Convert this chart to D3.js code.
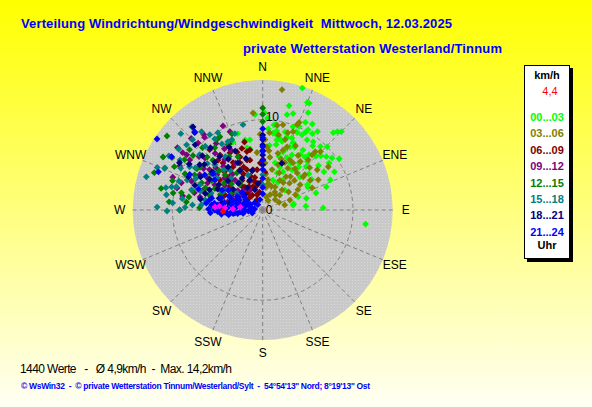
<!DOCTYPE html>
<html><head><meta charset="utf-8">
<script src="https://cdn.jsdelivr.net/npm/d3@7"></script>
<style>
body{margin:0;background:#fff;}
svg{display:block;font-family:"Liberation Sans",Arial,sans-serif;}
</style>
</head><body>
<svg id="chart" width="592" height="407"></svg>
<script>
// ---------- data ----------
const titleText = "Verteilung Windrichtung/Windgeschwindigkeit  Mittwoch, 12.03.2025";
const subtitleText = "private Wetterstation Westerland/Tinnum";
const statsText = "1440 Werte   -   Ø 4,9km/h  -  Max. 14,2km/h";
const footerText = "© WsWin32  -  © private Wetterstation Tinnum/Westerland/Sylt  -  54°54'13'' Nord; 8°19'13'' Ost";
const directionLabels = ["N","NNE","NE","ENE","E","ESE","SE","SSE","S","SSW","SW","WSW","W","WNW","NW","NNW"];
const speedTicks = [0, 10];
const speedMax = 14.4;
const hourLabels = ["00...03","03...06","06...09","09...12","12...15","15...18","18...21","21...24"];
const hourColors = ["#00ff00","#808000","#800000","#800080","#008000","#008080","#000080","#0000ff"];
const unitLabel = "km/h";
const hourUnit = "Uhr";
const currentLabel = "4,4";

// [direction in degrees, speed in km/h]
const h00_03 = [[18,14.2],[22.5,12.9],[23.6,12.9],[25,11.9],[14.2,11.9],[17.5,11.2],[14.3,10.9],[23.6,10.1],[24,9.4],[27.6,9.4],[28.8,9.8],[29.5,10.2],[33,10.1],[32.3,9.2],[36.5,9.4],[42.3,9.5],[45.6,10],[42.4,11.6],[43.6,12],[45.1,12.3],[53.1,9.6],[56.2,10.2],[54.7,9.0],[66,8.2],[44.6,8.4],[51.5,7.9],[42.7,7.3],[34.1,7.4],[33.9,8.0],[38.6,7.5],[37.7,6.6],[48.5,5.5],[60.6,5.7],[63,5.6],[69.8,4.2],[72.3,6.2],[80.6,3.4],[88,6.7],[34,4.0],[48,3.3],[36.2,5.5],[7.6,8.6],[11.5,7.9],[11.6,7.4],[15.8,7.9],[18.4,8.5],[22.1,8.6],[24.3,8.2],[23.4,7.6],[19.3,6.8],[17.1,6.2],[25,6.4],[28,6.9],[14.7,5.4],[21.9,5.1],[28.1,4.8],[21.1,4.4],[19,3.5],[28.6,3.5],[355.4,10.6],[345.8,8.0],[349.7,7.9],[342,8.9],[336.4,8.2],[345.8,7.1],[348.2,6.9],[97.8,11.5],[79,3.5],[7.6,9.5],[10,8.5],[1,10.8],[3,10.2],[9,9.6],[10,8.9],[12,8.0],[20,9.8],[26,10.8],[30,11.0],[35,10.6],[38,9.0],[40,8.0],[47,8.8],[50,9.2],[58,8.0],[62,9.0],[16,9.0],[13,8.2],[20,7.2],[27,7.8],[31,6.0],[40,6.2],[45,6.8],[52,6.5],[58,6.4],[70,7.5],[75,5.0],[85,4.8],[6,7.2],[4,9.0]];
const h03_06 = [[9.1,13.5],[354.3,10.8],[22.6,10.5],[22,10.2],[13.4,9.7],[9.7,9.5],[21.2,9.3],[17.7,8.2],[21.1,7.5],[18.7,7.0],[28.6,6.3],[32.8,6.2],[37.8,6.8],[42.2,7.5],[41.9,8.2],[42,8.7],[44.7,9.1],[56.6,8.7],[53.6,7.5],[61.5,7.0],[65.9,6.0],[50.7,5.8],[42.8,5.6],[39.6,4.8],[36.9,3.8],[44,3.1],[28.1,2.9],[7.8,5.9],[13,4.6],[3.9,7.0],[354.3,6.4],[1.9,7.8],[65,4.0],[70,3.2],[49,2.5],[77,2.5],[26,1.9],[56,5.0],[50,6.1],[18.8,5.3],[31,5.4],[10,3.4],[15,6.5],[25,5.8],[35,4.5],[45,4.2],[30,3.8],[20,2.8],[40,2.2],[55,3.5],[60,4.5],[5,4.0],[8,2.5],[15,1.5],[30,1.2],[50,1.8],[65,2.0],[12,8.5],[18,9.0],[5,8.6],[27,8.0],[33,7.2],[48,7.0],[38,5.8],[24,4.5],[12,3.0],[58,6.2],[47,4.8],[34,2.4],[3,5.2],[358,8.4],[20,6.0],[6,6.6]];
const h06_09 = [[0.3,5.6],[3.5,4.2],[348,6.8],[334.2,5.8],[342.6,5.8],[330.2,7.3],[336.1,7.0],[336.8,6.4],[344.9,6.7],[325.4,5.8],[312.7,5.4],[314.3,4.8],[330.4,5.1],[338.6,4.8],[345.7,5.7],[319.8,6.8],[296.7,5.7],[299.8,3.8],[319.4,3.4],[337.1,2.8],[330.3,1.3],[292,3.0],[346.4,4.6],[322.2,7.7],[318.7,8.9],[341.3,7.2],[347,2.8],[291.7,4.5],[346.5,3.7],[335,3.5],[325,4.0],[350,2.0],[340,1.8],[320,2.5],[310,3.0],[355,3.0],[352,4.5],[328,6.2],[315,6.0],[305,4.5],[300,2.2],[325,2.0],[340,4.0],[332,4.5],[318,5.2],[333,8.2],[345,7.8],[310,6.8],[303,6.2],[318,7.4],[326,6.8],[336,5.2],[344,3.3],[357,5.2],[322,3.2],[312,2.0],[298,4.8],[330,3.0],[305,5.8]];
const h09_12 = [[334.7,10.3],[321.3,10.3],[306,10.4],[306.2,11.7],[316,10.3],[288.5,9.5],[284.1,7.8],[281.7,7.1],[286.4,4.7],[304.5,9.8],[337.3,9.4],[312,8.6],[284.4,9.8],[307.5,6.4],[278.7,2.2],[307.2,7.4],[323,7.0],[297.7,6.0],[299.2,8.0],[317.3,4.5],[305.6,10.9],[301.4,4.3],[327.6,2.6],[295,5.0],[310,5.5],[290,3.5],[315,3.0],[300,7.0],[320,8.2],[330,6.0],[292,8.5],[285,6.0],[310,9.2],[325,9.0],[300,3.0],[283,4.0],[318,6.5],[305,8.0],[315,11.2],[298,10.4],[290,10.6],[280,9.0],[288,7.0],[296,6.8],[312,7.0],[320,5.2],[328,8.0],[332,7.5],[303,5.0],[294,3.8],[308,3.5],[276,5.5],[286,2.8],[322,10.6]];
const h12_15 = [[307.7,13.4],[296.1,10.9],[289,12.7],[281.9,9.2],[270,9.2],[280,8.3],[294,7.4],[326.9,9.3],[331.9,8.2],[313.6,8.5],[0,11.3],[0,10.6],[0,9.8],[304.4,8.4],[322.4,8.7],[329.7,9.4],[338,9.1],[280.7,10.1],[297.3,8.5],[312.9,5.7],[285.9,6.1],[317.8,3.8],[302.8,10.3],[309.5,10.5],[300,6.5],[290,5.0],[310,4.5],[320,6.0],[295,9.5],[285,8.0],[305,7.0],[315,7.8],[325,5.0],[298,4.0],[288,10.5],[276,8.5],[335,6.5],[308,9.8],[300,11.6],[293,11.8],[282,11.5],[275,10.4],[291,6.8],[302,8.6],[316,9.6],[312,6.5],[328,7.0],[305,5.2],[294,5.8],[284,4.6],[320,4.0],[272,7.0],[298,12.5]];
const h15_18 = [[319.6,12.1],[310.6,11.1],[315.1,11.0],[324.9,10.2],[329.9,9.9],[328.3,8.6],[333,8.5],[336.3,8.5],[285.9,13.4],[293.3,11.8],[284.2,10.4],[285,9.9],[271.6,11.7],[269.4,10.6],[274.5,10.0],[285.8,8.2],[274.1,7.8],[273.4,5.6],[291.6,9.0],[300.6,9.4],[347,9.7],[301.2,7.5],[313.3,7.3],[320.7,5.7],[291.7,7.5],[295.1,5.2],[0,3.9],[0,2.8],[337.2,4.2],[301.2,10.7],[311.3,9.3],[280,6.5],[288,6.0],[295,8.2],[305,6.2],[310,8.0],[300,4.5],[290,3.8],[315,5.0],[325,7.2],[278,9.0],[283,11.0],[297,10.2],[306,11.5],[318,9.5],[282,4.5],[275,6.8],[292,12.6],[300,12.0],[313,12.4],[322,11.0],[270,9.2],[279,10.8],[287,7.2],[302,8.8],[308,6.8],[316,6.2],[296,4.8],[303,3.4],[272,8.6],[289,9.8],[326,9.5],[340,9.0]];
const h18_21 = [[320,12.0],[318.7,11.4],[321.1,7.6],[321.1,6.1],[332.3,5.9],[327.1,4.2],[290.8,6.3],[279.8,4.6],[288,3.6],[306.9,7.0],[331.9,7.9],[0,8.3],[0,7.2],[0,6.1],[0,5.0],[0,7.8],[0,6.6],[305.7,8.6],[299.6,10.6],[337,3.6],[310.3,2.6],[339,2.4],[22.3,5.6],[295,5.5],[300,6.8],[285,5.0],[310,5.0],[315,7.5],[325,3.0],[290,8.0],[280,7.0],[305,4.0],[295,3.0],[312,9.0],[330,5.0],[345,4.5],[350,3.0],[283,2.5],[314,10.4],[302,9.6],[294,9.0],[286,6.6],[298,7.8],[308,8.2],[320,9.0],[318,4.0],[300,5.6],[282,3.8],[292,2.0],[326,6.8],[335,7.2],[342,6.0]];
const h21_24 = [[275.6,5.7],[270,5.3],[267.3,4.7],[267,4.2],[264.8,3.6],[263.8,3.1],[265,2.5],[266.8,2.0],[270,1.4],[277,0.9],[276.4,5.0],[280.5,4.3],[279.3,3.5],[282.4,2.6],[288.8,1.7],[312,1.2],[280.7,6.0],[273.3,3.9],[274.3,3.0],[276,2.1],[254,1.2],[317,0.8],[345,1.2],[0,9.0],[0,8.0],[0,7.0],[0,6.5],[0,5.5],[0,4.5],[0,3.5],[0,2.5],[0,1.8],[303.9,14.1],[300.3,11.7],[290.1,12.3],[301.2,7.5],[302.2,6.3],[300,4.4],[319,11.5],[268,5.0],[265,4.0],[263,3.3],[262,2.8],[266,1.6],[272,4.6],[271,3.2],[269,2.3],[278,5.4],[284,3.0],[290,2.2],[295,1.5],[300,2.0],[305,2.5],[298,3.2],[292,4.0],[286,4.8],[283,5.8],[277,6.3],[275,4.4],[267,5.8],[271,6.0],[264,4.6],[262,3.8],[260,2.2],[264,1.2],[280,1.2],[283,2.0],[287,3.5],[293,2.8],[296,5.0],[310,3.0],[306,6.8],[296,9.0],[288,7.5]];
const lastMinutes = [[273.6,5.3],[273,4.2],[271.9,3.3],[277.5,2.5],[275,4.8]];
const currentValue = [[268,4.4]];

const hourSeries = [h00_03,h03_06,h06_09,h09_12,h12_15,h15_18,h18_21,h21_24];

// ---------- drawing ----------
const svg = d3.select("#chart");
const W = 592, H = 407;
const cx = 262.7, cy = 210, R = 130;

const defs = svg.append("defs");
const grad = defs.append("linearGradient").attr("id","bg").attr("x1",0).attr("y1",0).attr("x2",0).attr("y2",1);
grad.append("stop").attr("offset","0%").attr("stop-color","#ffff00");
grad.append("stop").attr("offset","100%").attr("stop-color","#fffff4");
const pat = defs.append("pattern").attr("id","dots").attr("width",3).attr("height",3).attr("patternUnits","userSpaceOnUse");
pat.append("rect").attr("width",3).attr("height",3).attr("fill","#c9c9c9");
pat.append("rect").attr("x",1).attr("y",1).attr("width",1).attr("height",1).attr("fill","#d8d8d8");

svg.append("rect").attr("width",W).attr("height",H).attr("fill","url(#bg)");

const rScale = d3.scaleLinear().domain([0, speedMax]).range([0, R]);
const aScale = d3.scaleLinear().domain([0, 360]).range([0, 2*Math.PI]);
const px = d => cx + rScale(d[1]) * Math.sin(aScale(d[0]));
const py = d => cy - rScale(d[1]) * Math.cos(aScale(d[0]));

const g = svg.append("g");
g.append("circle").attr("cx",cx).attr("cy",cy).attr("r",R).attr("fill","url(#dots)");

// grid
const dirAngles = directionLabels.map((_, i) => i * 360 / directionLabels.length);
g.selectAll("line.rad").data(dirAngles).join("line")
  .attr("x1",cx).attr("y1",cy)
  .attr("x2",a => px([a, speedMax])).attr("y2",a => py([a, speedMax]))
  .attr("stroke","#808080").attr("stroke-width",1).attr("stroke-dasharray","4,3");
g.selectAll("circle.ring").data(speedTicks.filter(t => t > 0)).join("circle")
  .attr("cx",cx).attr("cy",cy).attr("r",t => rScale(t))
  .attr("fill","none").attr("stroke","#808080").attr("stroke-width",1).attr("stroke-dasharray","4,3");

// direction labels
g.selectAll("text.dir").data(directionLabels).join("text")
  .attr("x",(d,i) => cx + 143*Math.sin(aScale(dirAngles[i])))
  .attr("y",(d,i) => cy - 143*Math.cos(aScale(dirAngles[i])) + 4)
  .attr("text-anchor","middle").attr("font-size",12).attr("fill","#000").text(d => d);

// points
const diamond = "M0,-3.4L3.4,0L0,3.4L-3.4,0Z";
hourSeries.forEach((s, i) => {
  g.append("g").selectAll("path").data(s).join("path")
    .attr("d", diamond)
    .attr("transform", d => `translate(${px(d)},${py(d)})`)
    .attr("fill", hourColors[i]);
});
g.append("g").selectAll("path").data(lastMinutes).join("path")
  .attr("d", diamond).attr("transform", d => `translate(${px(d)},${py(d)})`).attr("fill","#ff00ff");
g.append("g").selectAll("path").data(currentValue).join("path")
  .attr("d", diamond).attr("transform", d => `translate(${px(d)},${py(d)})`).attr("fill","#ff0000");

// speed tick labels
g.selectAll("text.tick").data(speedTicks).join("text")
  .attr("x", cx + 3)
  .attr("y", t => cy - rScale(t) + (t === 0 ? 4 : 1))
  .attr("font-size",12).attr("fill","#000").text(t => t);

// titles
svg.append("text").attr("x",21).attr("y",28).attr("font-size",13).attr("font-weight","bold")
  .attr("fill","#0000ff").style("white-space","pre").attr("textLength",431).attr("lengthAdjust","spacing").text(titleText);
svg.append("text").attr("x",243).attr("y",53).attr("font-size",13).attr("font-weight","bold")
  .attr("fill","#0000ff").attr("textLength",259).attr("lengthAdjust","spacing").text(subtitleText);

// stats + footer
svg.append("text").attr("x",20).attr("y",373).attr("font-size",12).attr("fill","#000")
  .style("white-space","pre").attr("textLength",212).attr("lengthAdjust","spacing").text(statsText);
svg.append("text").attr("x",21).attr("y",389).attr("font-size",8.5).attr("font-weight","bold").attr("fill","#0000ff")
  .style("white-space","pre").attr("textLength",349).attr("lengthAdjust","spacing").text(footerText);

// legend
const lg = svg.append("g");
lg.append("rect").attr("x",527).attr("y",68).attr("width",46).attr("height",194).attr("fill","#000");
lg.append("rect").attr("x",524.5).attr("y",65.5).attr("width",45).attr("height",193).attr("fill","#fff").attr("stroke","#000");
lg.append("text").attr("x",547).attr("y",79).attr("text-anchor","middle").attr("font-size",11).attr("font-weight","bold").attr("fill","#000").text(unitLabel);
lg.append("text").attr("x",550).attr("y",95).attr("text-anchor","middle").attr("font-size",11).attr("fill","#ff0000").text(currentLabel);
lg.selectAll("text.h").data(hourLabels).join("text")
  .attr("x",547).attr("y",(d,i) => 121 + i*16.4).attr("text-anchor","middle")
  .attr("font-size",11).attr("font-weight","bold").attr("fill",(d,i) => hourColors[i]).text(d => d);
lg.append("text").attr("x",547).attr("y",249).attr("text-anchor","middle").attr("font-size",11).attr("font-weight","bold").attr("fill","#000").text(hourUnit);
</script>
</body></html>
